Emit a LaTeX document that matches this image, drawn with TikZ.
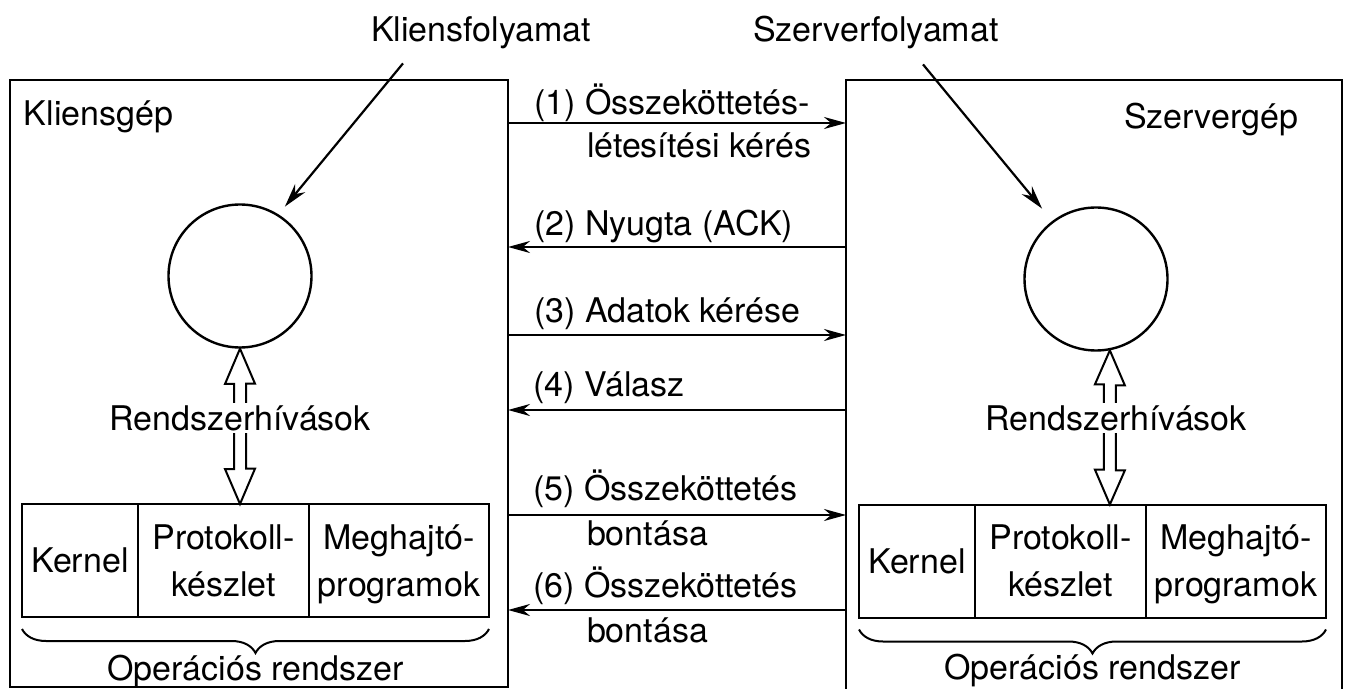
\documentclass[tikz,border=0pt]{standalone}
\usepackage{fontspec}
\setmainfont{TeX Gyre Heros}
\usetikzlibrary{arrows.meta, calc, positioning, fit, decorations.pathreplacing}

% hollow two-headed arrow between a process and its OS
\newcommand{\hivasnyil}[2]{%
  \draw[line width=1pt, fill=white] (#1) -- ++(15,35) -- ++(-9,0) -- ++(0,85) -- ++(9,0) -- (#2)
    -- ++(-15,-35) -- ++(9,0) -- ++(0,-85) -- ++(-9,0) -- cycle;}

\begin{document}
\begin{tikzpicture}[x=0.5pt, y=-0.5pt, font=\fontsize{17}{23.5}\selectfont, line width=1pt,
    >={Stealth[length=11pt, width=6pt]},
    txt/.style={inner sep=0pt},
    gep/.style={draw, inner sep=0pt, outer sep=0pt},
    proc/.style={draw, circle, minimum size=71.5pt, inner sep=0pt, line width=1.2pt},
    cell/.style={draw, minimum height=56.5pt, inner sep=0pt, outer sep=0pt, align=center, text depth=0pt},
    msg/.style={->, line width=1.1pt},
    pointer/.style={-{Stealth[length=12pt, width=6.5pt]}, line width=1.1pt},
    osbrace/.style={decorate, decoration={brace, amplitude=12pt}, line width=1pt}]

    \useasboundingbox (0,0) rectangle (1349,689);

    % the two machines
    \coordinate (kbal) at (10,80);
    \coordinate (kjobb) at (508,687);
    \node[gep, fit=(kbal)(kjobb)] (kgep) {};
    \coordinate (sbal) at (846,80);
    \coordinate (sjobb) at (1342,695);
    \node[gep, fit=(sbal)(sjobb)] (sgep) {};

    \node[txt, anchor=base west] (kgepn) at (23,126) {Kliensgép};
    \node[txt, anchor=base west] (sgepn) at (1123,129) {Szervergép};
    \node[txt, anchor=base west] (kfoly) at (370,42) {Kliensfolyamat};
    \node[txt, anchor=base west] (szfoly) at (752,42) {Szerverfolyamat};

    % processes
    \node[proc] (kproc) at (240,276) {};
    \node[proc] (sproc) at (1096,279) {};
    \draw[pointer, shorten >=5pt] ($(kfoly.south west)+(33,13)$) -- (kproc.58);
    \draw[pointer, shorten >=8pt] ($(szfoly.south west)+(171,14)$) -- (sproc.127.6);

    % operating systems
    \node[cell, minimum width=58pt] (kkern) at (80,560.5) {Kernel};
    \node[cell, minimum width=85.5pt, right=0pt of kkern] (kprot) {Protokoll-\\készlet};
    \node[cell, minimum width=90pt, right=0pt of kprot] (kmeg) {Meghajtó-\\programok};
    \node[cell, minimum width=58pt] (skern) at (917,561) {Kernel};
    \node[cell, minimum width=85.5pt, right=0pt of skern] (sprot) {Protokoll-\\készlet};
    \node[cell, minimum width=90pt, right=0pt of sprot] (smeg) {Meghajtó-\\programok};

    % system calls
    \hivasnyil{kproc.south}{kproc.south |- kprot.north}
    \hivasnyil{sproc.-79}{sproc.-79 |- sprot.north}
    \node[txt, anchor=base, fill=white, inner sep=1pt] (khiv) at (240,430) {Rendszerhívások};
    \node[txt, anchor=base, fill=white, inner sep=1pt] (shiv) at (1116,430) {Rendszerhívások};

    \draw[osbrace] ($(kmeg.south east)+(0,12)$) -- ($(kkern.south west)+(0,12)$);
    \draw[osbrace] ($(smeg.south east)+(0,12)$) -- ($(skern.south west)+(0,12)$);
    \node[txt, anchor=base] (kos) at ($(kkern.south west)!0.5!(kmeg.south east)+(0,63)$) {Operációs rendszer};
    \node[txt, anchor=base] (sos) at ($(skern.south west)!0.5!(smeg.south east)+(0,62)$) {Operációs rendszer};

    % messages
    \foreach \y in {123,335,515} \draw[msg] (kgep.east |- 0,\y) -- (sgep.west |- 0,\y);
    \foreach \y in {247,410,610} \draw[msg] (sgep.west |- 0,\y) -- (kgep.east |- 0,\y);

    \node[txt, anchor=base west] (u1a) at (533,115) {(1) Összeköttetés-};
    \node[txt, anchor=base west] (u1b) at (586,158) {létesítési kérés};
    \node[txt, anchor=base west] (u2) at (533,236) {(2) Nyugta (ACK)};
    \node[txt, anchor=base west] (u3) at (533,323) {(3) Adatok kérése};
    \node[txt, anchor=base west] (u4) at (532,397) {(4) Válasz};
    \node[txt, anchor=base west] (u5a) at (532,500) {(5) Összeköttetés};
    \node[txt, anchor=base west] (u5b) at (586,545) {bontása};
    \node[txt, anchor=base west] (u6a) at (532,597) {(6) Összeköttetés};
    \node[txt, anchor=base west] (u6b) at (586,642) {bontása};
\end{tikzpicture}
\end{document}
